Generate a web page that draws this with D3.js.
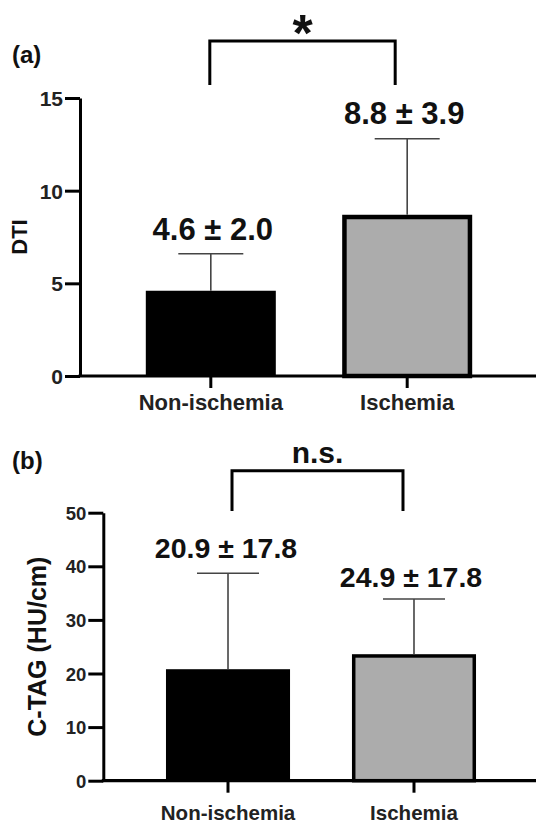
<!DOCTYPE html>
<html>
<head>
<meta charset="utf-8">
<script src="https://cdn.jsdelivr.net/npm/d3@7"></script>
<style>
  html, body { margin: 0; padding: 0; background: #fff; }
  svg { display: block; }
  text { font-family: "Liberation Sans", Arial, Helvetica, sans-serif; font-weight: bold; }
</style>
</head>
<body>
<svg id="chart" width="536" height="823"></svg>
<script>
// ---------- data ----------
const categories = ["Non-ischemia", "Ischemia"];

const dtiMean = [4.6, 8.7];
const dtiErr = [2.0, 4.1];
const dtiLabels = ["4.6 ± 2.0", "8.8 ± 3.9"];
const dtiTicks = [0, 5, 10, 15];
const dtiTitle = "DTI";
const dtiPanel = "(a)";
const dtiSig = "*";

const ctagMean = [20.8, 23.6];
const ctagErr = [17.9, 10.3];
const ctagLabels = ["20.9 ± 17.8", "24.9 ± 17.8"];
const ctagTicks = [0, 10, 20, 30, 40, 50];
const ctagTitle = "C-TAG (HU/cm)";
const ctagPanel = "(b)";
const ctagSig = "n.s.";

const barFills = ["#000000", "#acacac"];

// ---------- drawing ----------
const svg = d3.select("#chart");

function drawPanel(cfg) {
  const g = svg.append("g");
  const y = d3.scaleLinear().domain([0, d3.max(cfg.ticks)]).range([cfg.y0, cfg.y1]);
  const x = d3.scaleBand().domain(categories).range(cfg.xRange)
    .paddingInner(cfg.pi).paddingOuter(cfg.po);
  const bw = x.bandwidth();

  const rows = categories.map((c, i) => ({ c, m: cfg.mean[i], e: cfg.err[i], lab: cfg.labels[i], fill: barFills[i], i }));

  // bars
  g.selectAll("rect.bar").data(rows).join("rect")
    .attr("class", "bar")
    .attr("x", d => x(d.c) + (d.i ? cfg.sw / 2 : 0))
    .attr("width", d => bw - (d.i ? cfg.sw : 0))
    .attr("y", d => y(d.m) + (d.i ? cfg.sw / 2 : 0))
    .attr("height", d => y(0) - y(d.m) - (d.i ? cfg.sw / 2 : 0))
    .attr("fill", d => d.fill)
    .attr("stroke", d => d.i ? "#000" : "none")
    .attr("stroke-width", cfg.sw);

  // error bars (upper only)
  g.selectAll("line.err").data(rows).join("line")
    .attr("class", "err")
    .attr("x1", d => x(d.c) + bw / 2).attr("x2", d => x(d.c) + bw / 2)
    .attr("y1", d => y(d.m)).attr("y2", d => y(d.m + d.e))
    .attr("stroke", "#444").attr("stroke-width", 1.6);
  g.selectAll("line.cap").data(rows).join("line")
    .attr("class", "cap")
    .attr("x1", d => x(d.c) + bw / 4).attr("x2", d => x(d.c) + bw * 3 / 4)
    .attr("y1", d => y(d.m + d.e)).attr("y2", d => y(d.m + d.e))
    .attr("stroke", "#444").attr("stroke-width", 1.6);

  // value labels
  g.selectAll("text.val").data(rows).join("text")
    .attr("class", "val")
    .attr("x", d => x(d.c) + bw / 2 + cfg.labDx[d.i])
    .attr("y", d => y(d.m + d.e) - cfg.labGap[d.i])
    .attr("text-anchor", "middle")
    .attr("font-size", cfg.valFont)
    .attr("fill", "#111")
    .text(d => d.lab);

  // y axis
  const ya = g.append("g").attr("transform", `translate(${cfg.xAxis},0)`)
    .call(d3.axisLeft(y).tickValues(cfg.ticks).tickSize(cfg.tickLen).tickSizeOuter(0).tickPadding(2));
  ya.select(".domain").attr("stroke", "#000").attr("stroke-width", 3);
  ya.selectAll(".tick line").attr("stroke", "#000").attr("stroke-width", 3);
  ya.selectAll(".tick text").attr("font-size", cfg.tickFont).attr("fill", "#222")
    .attr("font-family", null).attr("dy", "0.36em");

  // x axis
  const xa = g.append("g").attr("transform", `translate(0,${cfg.y0})`)
    .call(d3.axisBottom(x).tickSize(12).tickSizeOuter(0).tickPadding(8));
  xa.select(".domain").attr("stroke", "#000").attr("stroke-width", 3.2)
    .attr("d", `M${cfg.xAxis - 1.5},0H540`);
  xa.selectAll(".tick line").attr("stroke", "#000").attr("stroke-width", 3);
  xa.selectAll(".tick text").remove();
  xa.selectAll(".tick").append("text")
    .attr("y", cfg.catY - cfg.y0)
    .attr("text-anchor", "middle")
    .attr("font-size", cfg.catFont)
    .attr("fill", "#222")
    .text(d => d);

  // y title
  g.append("text")
    .attr("transform", `translate(${cfg.titleX},${(cfg.y0 + cfg.y1) / 2}) rotate(-90)`)
    .attr("text-anchor", "middle")
    .attr("font-size", cfg.titleFont)
    .attr("fill", "#111")
    .text(cfg.title);

  // panel letter
  g.append("text")
    .attr("x", 12).attr("y", cfg.panelY)
    .attr("font-size", 24)
    .attr("fill", "#111")
    .text(cfg.panel);

  // significance bracket
  const xl = x(categories[0]) + bw / 2 + cfg.brInset[0];
  const xr = x(categories[1]) + bw / 2 - cfg.brInset[1];
  g.append("path")
    .attr("d", `M${xl},${cfg.brBottom}V${cfg.brTop}H${xr}V${cfg.brBottom}`)
    .attr("fill", "none").attr("stroke", "#000").attr("stroke-width", 3);
  g.append("text")
    .attr("x", (xl + xr) / 2).attr("y", cfg.sigY)
    .attr("text-anchor", "middle")
    .attr("font-size", cfg.sigFont)
    .attr("fill", "#111")
    .text(cfg.sig);
}

drawPanel({
  mean: dtiMean, err: dtiErr, labels: dtiLabels, ticks: dtiTicks,
  title: dtiTitle, panel: dtiPanel, sig: dtiSig,
  y0: 376, y1: 98, xAxis: 80, xRange: [81, 537], pi: 0.338, po: 0.33,
  sw: 4.5, valFont: 31, labGap: [14, 15], labDx: [2, -3],
  tickLen: 15, tickFont: 21, catY: 410, catFont: 22,
  titleX: 27, titleFont: 22, panelY: 63,
  brTop: 41, brBottom: 85, brInset: [-1, 12], sigY: 51, sigFont: 52
});

drawPanel({
  mean: ctagMean, err: ctagErr, labels: ctagLabels, ticks: ctagTicks,
  title: ctagTitle, panel: ctagPanel, sig: ctagSig,
  y0: 780.7, y1: 512.7, xAxis: 103.3, xRange: [103.3, 538.7], pi: 0.333, po: 0.337,
  sw: 3.5, valFont: 28.5, labGap: [15, 12], labDx: [-2, -3],
  tickLen: 15, tickFont: 18.5, catY: 820.5, catFont: 20.5,
  titleX: 45.5, titleFont: 25, panelY: 469,
  brTop: 470.7, brBottom: 511, brInset: [4, 11], sigY: 462.7, sigFont: 30
});
</script>
</body>
</html>
